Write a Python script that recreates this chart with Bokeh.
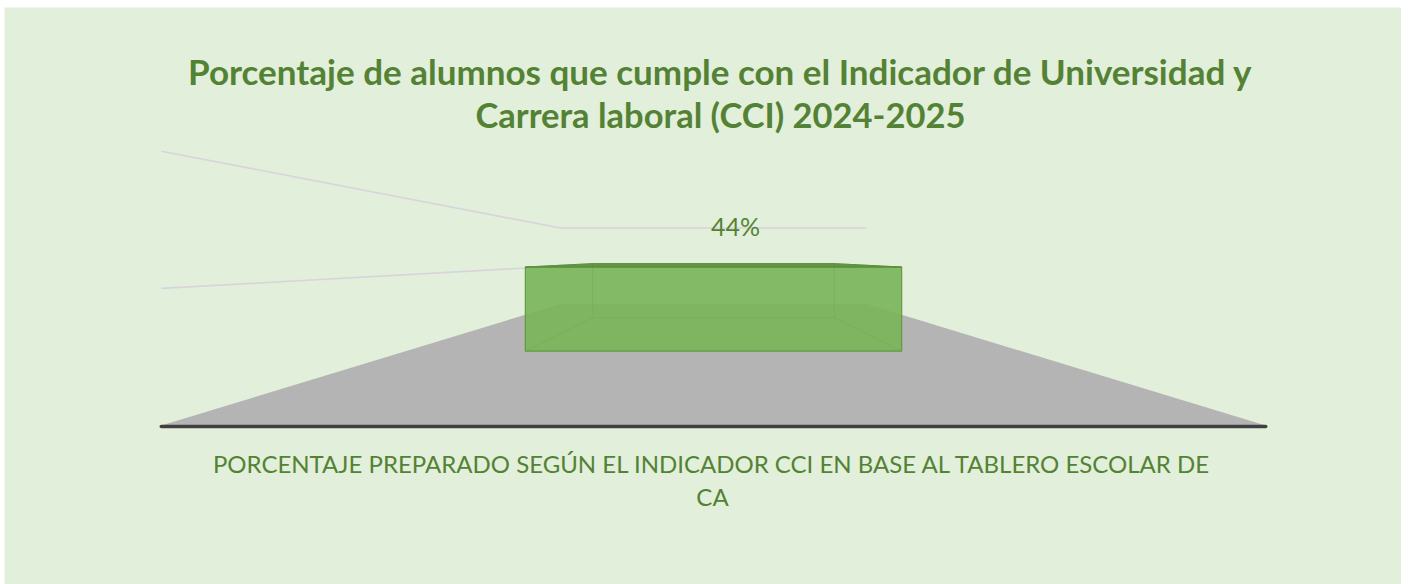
from bokeh.plotting import figure
from bokeh.models import Range1d
from bokeh.core.properties import value
from bokeh.embed import file_html
from bokeh.resources import INLINE

# ---- data ----
categories = ["PORCENTAJE PREPARADO SEGÚN EL INDICADOR CCI EN BASE AL TABLERO ESCOLAR DE CA"]
values = [0.44]
grid_values = [0.4, 0.8]
title_lines = ["Porcentaje de alumnos que cumple con el Indicador de Universidad y",
               "Carrera laboral (CCI) 2024-2025"]
cat_lines = ["PORCENTAJE PREPARADO SEGÚN EL INDICADOR CCI EN BASE AL TABLERO ESCOLAR DE", "CA"]

# ---- perspective camera (layout) ----
VPX, VPY = 713.0, 257.0
F = 343.0
EYE = 0.49
Z_FRONT, Z_BAR_F, Z_BAR_B, Z_BACK = 1.0, 1.796, 2.795, 3.61
WALL_X = 1.61
BAR_HALF = 0.985

def proj(X, Y, Z):
    s = F / Z
    return VPX + X * s, VPY + (EYE - Y) * s

BG = "#E2EFDA"
GREEN_TXT = "#548235"

p = figure(width=1401, height=584, output_backend="svg", toolbar_location=None,
           x_range=Range1d(4, 1401), y_range=Range1d(584, 7),
           min_border=0, min_border_left=4, min_border_top=7,
           background_fill_color=BG, border_fill_color="white")
p.axis.visible = False
p.grid.visible = False
p.outline_line_color = None

# floor
corners = [proj(-WALL_X, 0, Z_FRONT), proj(WALL_X, 0, Z_FRONT), proj(WALL_X, 0, Z_BACK), proj(-WALL_X, 0, Z_BACK)]
p.patch([c[0] for c in corners], [c[1] for c in corners], fill_color="#B4B4B4", line_color=None)

# gridlines: side wall + back wall
for g in grid_values:
    a = proj(-WALL_X, g, Z_FRONT)
    b = proj(-WALL_X, g, Z_BACK)
    c = proj(WALL_X, g, Z_BACK)
    p.line([a[0], b[0], c[0]], [a[1], b[1], c[1]], line_color="#D8D4DC", line_width=1.6)

# bar
for v in values:
    fbl = proj(-BAR_HALF, 0, Z_BAR_F); fbr = proj(BAR_HALF, 0, Z_BAR_F)
    ftl = proj(-BAR_HALF, v, Z_BAR_F); ftr = proj(BAR_HALF, v, Z_BAR_F)
    bbl = proj(-BAR_HALF, 0, Z_BAR_B); bbr = proj(BAR_HALF, 0, Z_BAR_B)
    btl = proj(-BAR_HALF, v, Z_BAR_B); btr = proj(BAR_HALF, v, Z_BAR_B)
    hidden = [[bbl, bbr, btr, btl], [fbl, fbr, bbr, bbl], [fbl, bbl, btl, ftl], [fbr, bbr, btr, ftr]]
    for face in hidden:
        p.patch([q[0] for q in face], [q[1] for q in face], fill_color="#78B457", fill_alpha=0.35,
                line_color="#5F963F", line_alpha=0.5, line_width=1)
    front = [fbl, fbr, ftr, ftl]
    p.patch([q[0] for q in front], [q[1] for q in front], fill_color="#79B458", fill_alpha=0.85,
            line_color="#5F963F", line_alpha=0.8, line_width=1.2)
    top = [ftl, ftr, btr, btl]
    p.patch([q[0] for q in top], [q[1] for q in top], fill_color="#5A8F3C", fill_alpha=0.9,
            line_color="#5A8F3C", line_width=1)
    lx, ly = proj(0, v, Z_BAR_B)
    p.text([lx + 22], [ly - 38], text=[f"{round(v*100)}%"], text_align="center", text_baseline="alphabetic",
           text_color=GREEN_TXT, text_font=value("Lato"), text_font_size="25px")

# category axis line
a0 = proj(-WALL_X, 0, Z_FRONT); a1 = proj(WALL_X, 0, Z_FRONT)
p.line([a0[0], a1[0]], [a0[1] + 1, a1[1] + 1], line_color="#404040", line_width=3.5, line_cap="round")

# category label
for i, t in enumerate(cat_lines):
    p.text([712], [463 + 33 * i], text=[t], text_align="center", text_baseline="alphabetic",
           text_color=GREEN_TXT, text_font=value("Lato"), text_font_size="24px")

# title
title_sizes = ["35px", "34.5px"]
for i, t in enumerate(title_lines):
    p.text([720], [70 + 44 * i], text=[t], text_align="center", text_baseline="alphabetic",
           text_color=GREEN_TXT, text_font=value("Lato"), text_font_size=title_sizes[i],
           text_font_style="bold")

open("out.html", "w").write(file_html(p, INLINE))
